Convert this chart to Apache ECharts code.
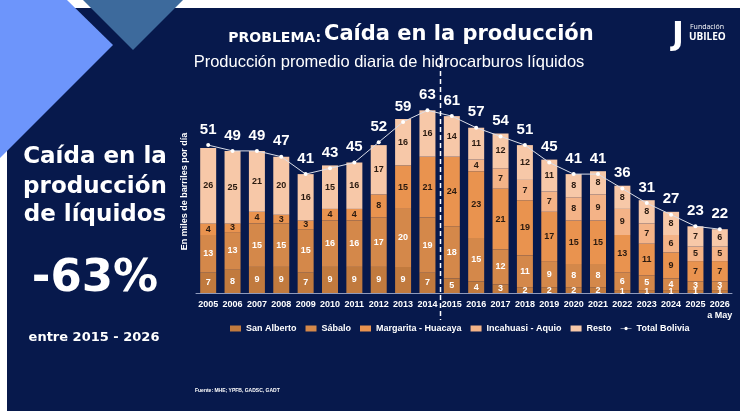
<!DOCTYPE html>
<html>
<head>
<meta charset="utf-8">
<script src="https://cdn.jsdelivr.net/npm/echarts@6.0.0/dist/echarts.min.js"></script>
<style>
  html, body { margin: 0; padding: 0; background: #ffffff; }
  #chart { width: 747px; height: 420px; }
</style>
</head>
<body>
<div id="chart"></div>
<script>
// datos en miles de barriles por dia
var years = ['2005', '2006', '2007', '2008', '2009', '2010', '2011', '2012', '2013', '2014', '2015',
    '2016', '2017', '2018', '2019', '2020', '2021', '2022', '2023', '2024', '2025', '2026\na May']
var sanAlberto = [7, 8, 9, 9, 7, 9, 9, 9, 9, 7, 5, 4, 3, 2, 2, 2, 2, 1, 1, 1, 1, 1]
var sabalo = [13, 13, 15, 15, 15, 16, 16, 17, 20, 19, 18, 15, 12, 11, 9, 8, 8, 6, 5, 4, 3, 3]
var margarita = [4, 3, 4, 3, 3, 4, 4, 8, 15, 21, 24, 23, 21, 19, 17, 15, 15, 13, 11, 9, 7, 7]
var incahuasi = [0, 0, 0, 0, 0, 0, 0, 0, 0, 0, 0, 4, 7, 7, 7, 8, 9, 9, 7, 6, 5, 5]
var resto = [26, 25, 21, 20, 16, 15, 16, 17, 16, 16, 14, 11, 12, 12, 11, 8, 8, 8, 8, 8, 7, 6]
var total = [51, 49, 49, 47, 41, 43, 45, 52, 59, 63, 61, 57, 54, 51, 45, 41, 41, 36, 31, 27, 23, 22]

var navy = '#07194c'

var chartDom = document.getElementById('chart')
var myChart = echarts.init(chartDom, null, { renderer: 'canvas' })

var barSeries = function(name, data, color, labelColor) {
    return {
        name: name,
        type: 'bar',
        stack: 'liq',
        data: data,
        barWidth: 16,
        itemStyle: { color: color },
        label: {
            show: true,
            position: 'inside',
            color: labelColor,
            fontFamily: 'Liberation Sans',
            fontWeight: 'bold',
            fontSize: 9,
            formatter: function(p) { return p.value > 0 ? p.value : '' }
        },
        emphasis: { disabled: true }
    }
}

var txt = function(x, y, text, font, align) {
    return {
        type: 'text', x: x, y: y, silent: true,
        style: { text: text, fill: '#ffffff', font: font, align: align || 'center', verticalAlign: 'middle' }
    }
}

option = {
    animation: false,
    backgroundColor: '#ffffff',
    textStyle: { fontFamily: 'Liberation Sans' },
    graphic: {
        elements: [
            { type: 'rect', shape: { x: 7, y: 8, width: 733, height: 403 }, style: { fill: navy }, silent: true, z: -10 },
            { type: 'polygon', shape: { points: [[0, 0], [67, 0], [113, 45], [0, 158]] }, style: { fill: '#6d95fb' }, silent: true, z: -9 },
            { type: 'polygon', shape: { points: [[83, 0], [183, 0], [133, 50]] }, style: { fill: '#3d6a9c' }, silent: true, z: -9 },
            txt(95, 157, 'Caída en la', 'bold 23px "DejaVu Sans"'),
            txt(95, 187, 'producción', 'bold 23px "DejaVu Sans"'),
            txt(95, 215, 'de líquidos', 'bold 23px "DejaVu Sans"'),
            txt(95, 279, '-63%', 'bold 45px "DejaVu Sans"'),
            txt(94, 338, 'entre 2015 - 2026', 'bold 13px "DejaVu Sans"'),
            txt(321, 38, 'PROBLEMA:', 'bold 14px "DejaVu Sans"', 'right'),
            txt(324, 35, 'Caída en la producción', 'bold 21px "DejaVu Sans"', 'left'),
            txt(389, 62, 'Producción promedio diaria de hidrocarburos líquidos', '16.5px "Liberation Sans"'),
            txt(678, 36, 'J', 'bold 32px "DejaVu Sans"'),
            txt(690, 27, 'Fundación', '7px "Open Sans"', 'left'),
            txt(689, 37, 'UBILEO', 'bold 10px "Open Sans"', 'left'),
            txt(195, 391, 'Fuente: MHE; YPFB, GADSC, GADT', 'bold 5px "Liberation Sans"', 'left')
        ]
    },
    legend: {
        left: 225,
        top: 319,
        width: 520,
        itemWidth: 11,
        itemHeight: 6,
        itemGap: 9,
        icon: 'rect',
        textStyle: { color: '#ffffff', fontWeight: 'bold', fontSize: 9, fontFamily: 'Liberation Sans' },
        data: ['San Alberto', 'Sábalo', 'Margarita - Huacaya', 'Incahuasi - Aquio', 'Resto',
            { name: 'Total Bolivia', icon: 'path://M0,4.5 L20,4.5 L20,5.5 L0,5.5 Z M10,2 A3,3 0 1 1 9.99,2 Z' }]
    },
    grid: { left: 196, right: 15, top: 90, bottom: 127 },
    xAxis: {
        type: 'category',
        data: years,
        axisTick: { show: false },
        axisLine: { lineStyle: { color: '#8f9bbd', width: 1 } },
        axisLabel: {
            color: '#ffffff', fontWeight: 'bold', fontSize: 9, margin: 6, lineHeight: 11,
            fontFamily: 'Liberation Sans', interval: 0
        }
    },
    yAxis: {
        type: 'value',
        min: 0,
        max: 70,
        splitLine: { show: false },
        axisLabel: { show: false },
        axisLine: { show: false },
        axisTick: { show: false },
        name: 'En miles de barriles por día',
        nameLocation: 'middle',
        nameGap: 7,
        nameRotate: 90,
        nameTextStyle: { color: '#ffffff', fontWeight: 'bold', fontSize: 9, fontFamily: 'Liberation Sans' }
    },
    series: [
        barSeries('San Alberto', sanAlberto, '#c17a3e', '#ffffff'),
        barSeries('Sábalo', sabalo, '#d4884a', '#ffffff'),
        barSeries('Margarita - Huacaya', margarita, '#e9934f', '#2a1a10'),
        barSeries('Incahuasi - Aquio', incahuasi, '#f4b387', '#2a1a10'),
        barSeries('Resto', resto, '#f7c8a8', '#2a1a10'),
        {
            name: 'Total Bolivia',
            type: 'line',
            data: total,
            z: 5,
            symbol: 'circle',
            symbolSize: 4,
            lineStyle: { color: '#d9dde8', width: 1 },
            itemStyle: { color: '#ffffff' },
            label: {
                show: true,
                position: 'top',
                distance: 6,
                color: '#ffffff',
                fontWeight: 'bold',
                fontSize: 15,
                fontFamily: 'Liberation Sans'
            },
            emphasis: { disabled: true }
        }
    ]
}

option && myChart.setOption(option)

// linea divisoria entre 2014 y 2015
var x1 = myChart.convertToPixel({ xAxisIndex: 0 }, 9)
var x2 = myChart.convertToPixel({ xAxisIndex: 0 }, 10)
var xm = Math.round((x1 + x2) / 2) + 0.5
option.graphic.elements.push({
    type: 'line', silent: true, z: 10,
    shape: { x1: xm, y1: 55, x2: xm, y2: 320 },
    style: { stroke: '#ffffff', lineWidth: 1.5, lineDash: [5, 3] }
})
myChart.setOption({ graphic: option.graphic })
</script>
</body>
</html>
